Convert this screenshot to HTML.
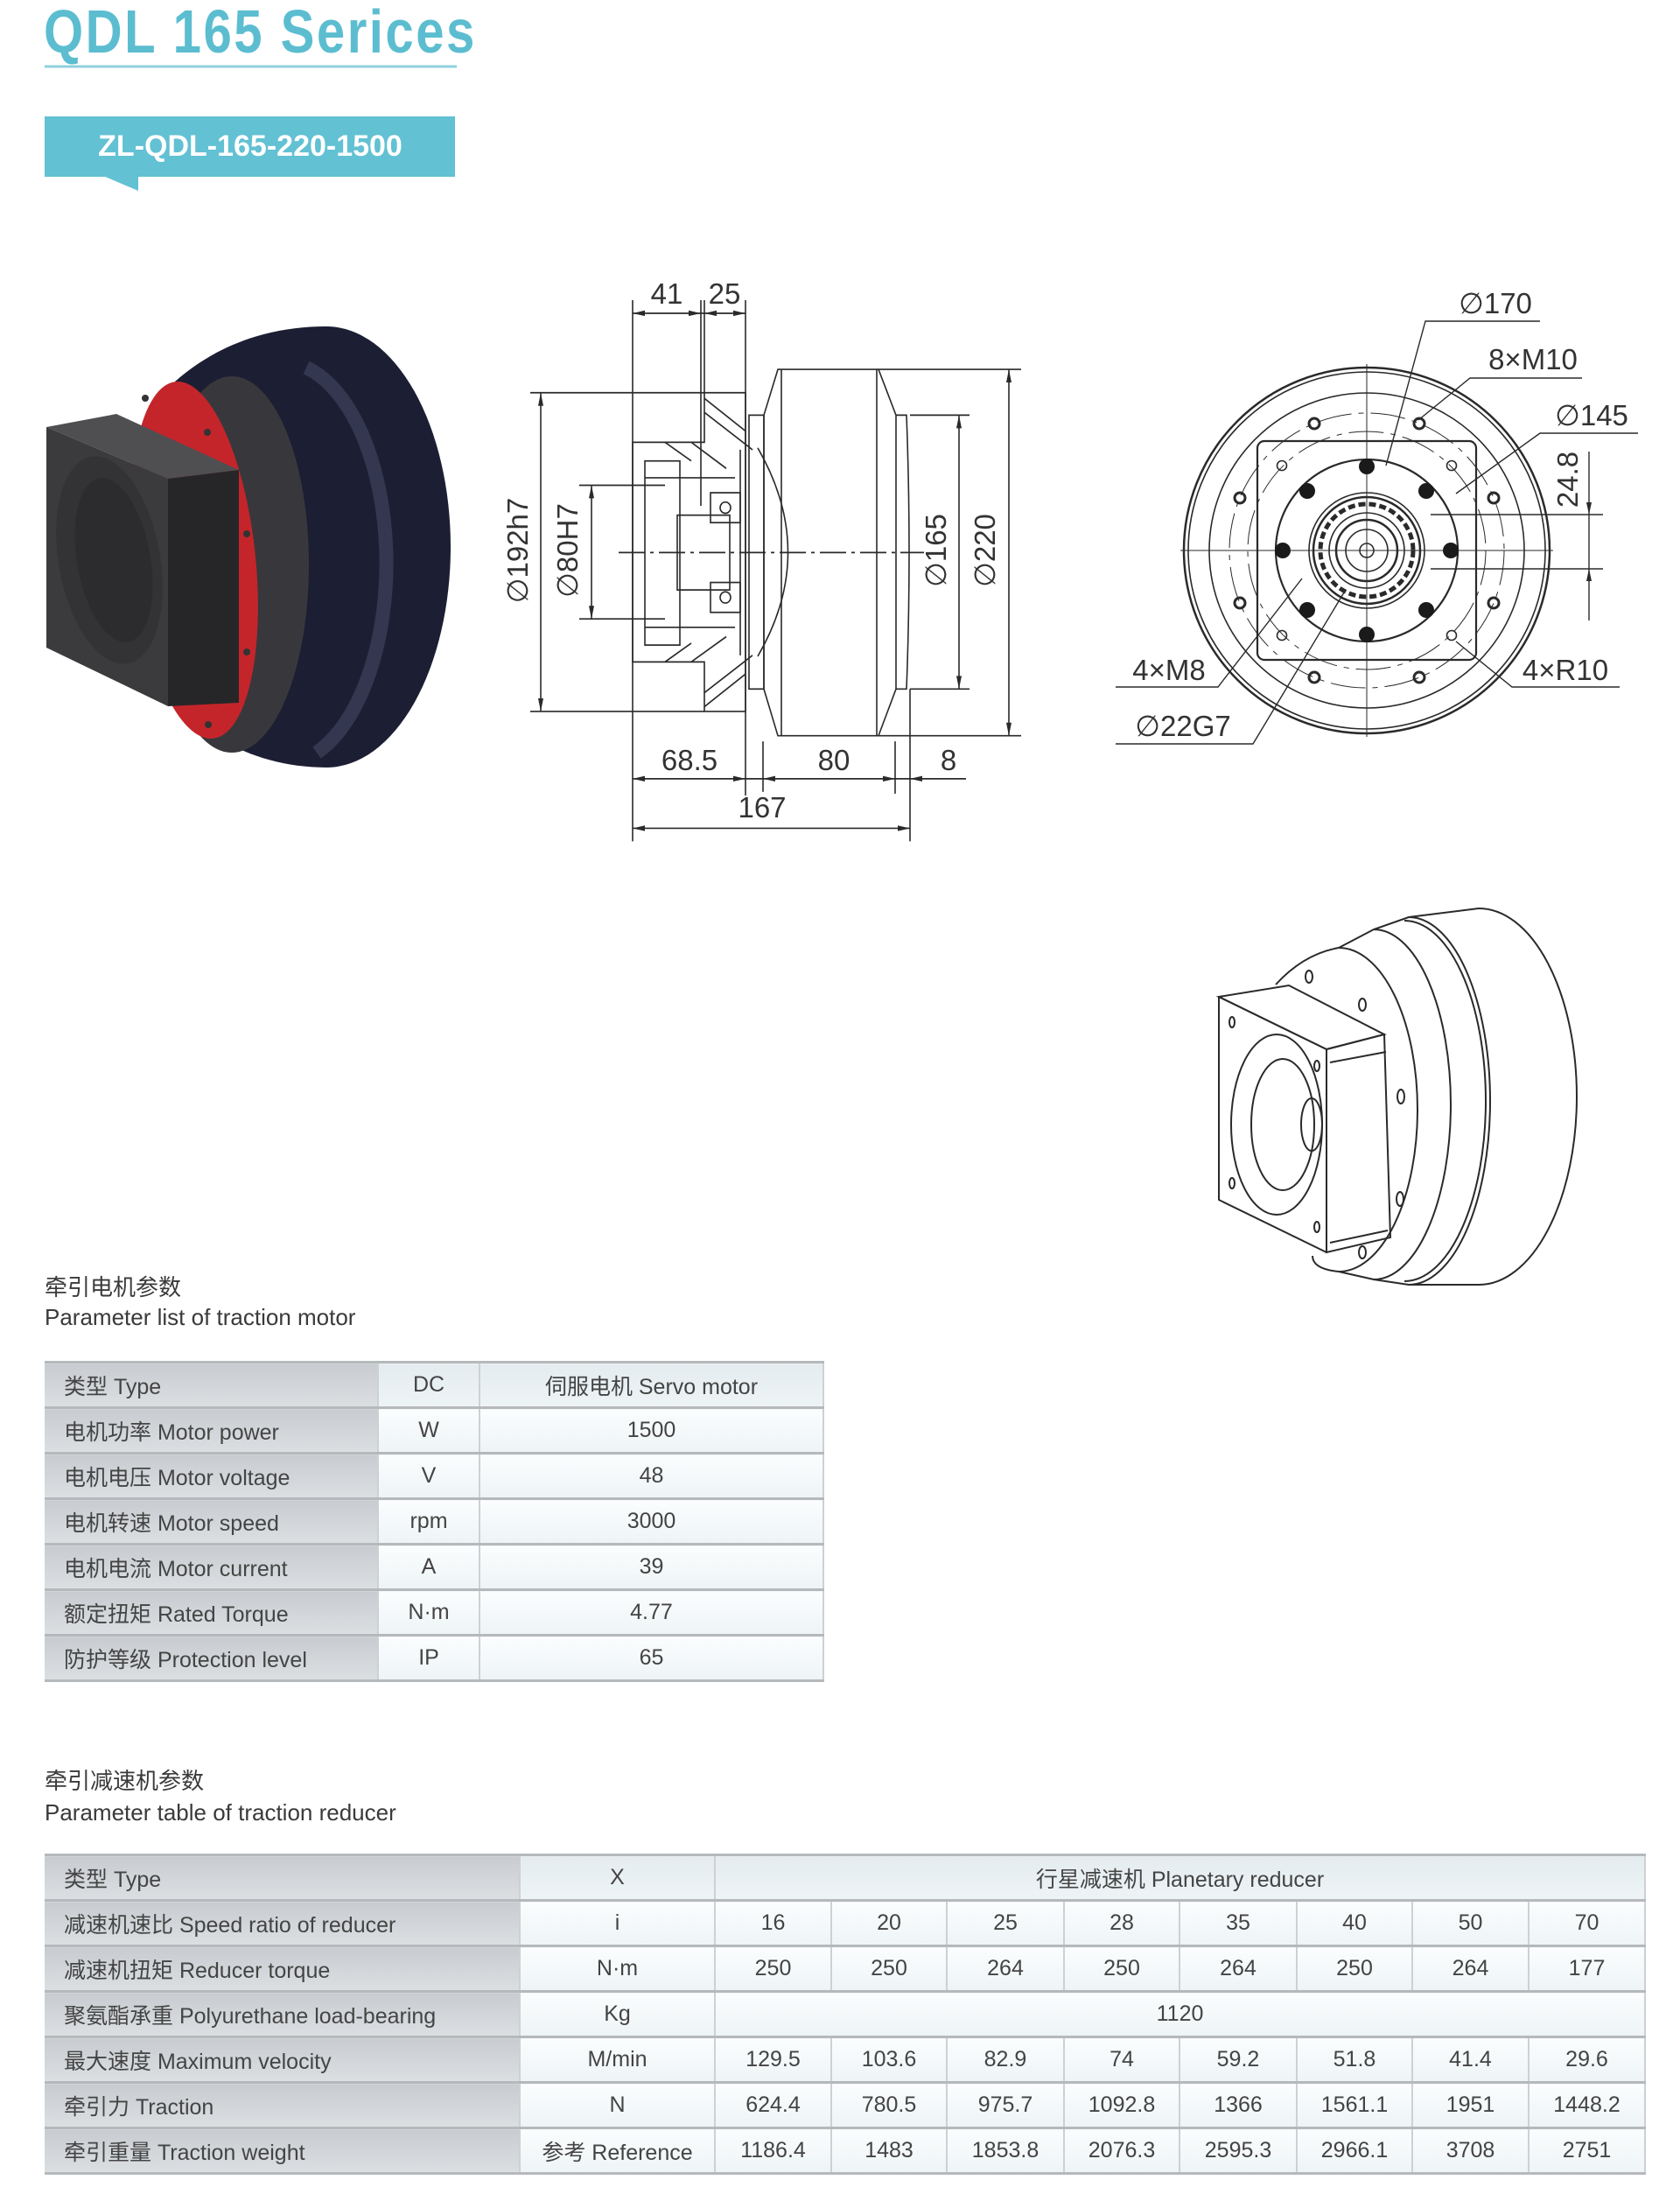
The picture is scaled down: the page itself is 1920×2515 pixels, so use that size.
<!DOCTYPE html>
<html><head><meta charset="utf-8"><style>
html,body{margin:0;padding:0;background:#fff;}
body{width:1920px;height:2515px;position:relative;overflow:hidden;font-family:"Liberation Sans","Noto Sans CJK SC",sans-serif;}
.t{position:absolute;color:#3a3a3a;font-size:26px;line-height:1;white-space:nowrap;}
table{position:absolute;border-collapse:collapse;table-layout:fixed;font-family:"Liberation Sans","Noto Sans CJK SC",sans-serif;font-size:25px;color:#444;border-top:3px solid #b5b9bc;}
td{height:49px;padding:0;text-align:center;border-bottom:3px solid #b5b9bc;border-right:2px solid #cdd1d4;background:linear-gradient(#fbfdfe,#eef4f6);white-space:nowrap;}
td.l{text-align:left;padding-left:22px;background:linear-gradient(#c8ccd0,#dcdfe2);}
td.h{background:linear-gradient(#e4ecef,#eef4f6);}
</style></head><body>

<svg width="1920" height="1500" style="position:absolute;left:0;top:0" xmlns="http://www.w3.org/2000/svg">
<!-- header -->
<text x="50" y="60" font-family="Liberation Sans, sans-serif" font-weight="bold" font-size="70" fill="#5cbdd0" letter-spacing="3" transform="translate(50,0) scale(0.83,1) translate(-50,0)">QDL 165 Serices</text>
<line x1="51" y1="76" x2="522" y2="76" stroke="#8fd0dc" stroke-width="3"/>
<rect x="51" y="133" width="469" height="69" fill="#62c1d3"/>
<polygon points="118,201 158,218 158,201" fill="#62c1d3"/>
<text x="286" y="178" text-anchor="middle" font-family="Liberation Sans, sans-serif" font-weight="bold" font-size="34" fill="#fff">ZL-QDL-165-220-1500</text>

<!-- dark 3D motor -->
<path d="M200,436 C250,392 310,373 373,373 A142,252 0 0 1 373,877 C320,877 270,860 240,835 Z" fill="#1c1f33"/>
<path d="M350,420 A120,230 0 0 1 362,860" fill="none" stroke="#3a3e58" stroke-width="16" opacity="0.8"/>
<ellipse cx="265" cy="645" rx="88" ry="215" fill="#38383c"/>
<ellipse cx="222" cy="640" rx="70" ry="205" fill="#c4252b" transform="rotate(-6 222 640)"/>
<circle cx="166" cy="455" r="4" fill="#333"/><circle cx="237" cy="494" r="4" fill="#333"/><circle cx="282" cy="610" r="4" fill="#333"/><circle cx="282" cy="745" r="4" fill="#333"/><circle cx="238" cy="828" r="4" fill="#333"/>
<polygon points="53,488 133,473 273,537 192,547" fill="#4f4f52"/>
<polygon points="192,547 273,537 273,803 192,807" fill="#262628"/>
<polygon points="53,488 192,547 192,807 53,740" fill="#3b3b3d"/>
<ellipse cx="125" cy="640" rx="58" ry="120" fill="#333335" transform="rotate(-10 125 640)"/>
<ellipse cx="130" cy="640" rx="42" ry="95" fill="#2c2c2e" transform="rotate(-10 130 640)"/>

<!-- side view -->
<g transform="translate(0,-20.1) scale(1,1.068)">
<g fill="none" stroke="#2a2a2a" stroke-width="1.6">
<line x1="723" y1="340" x2="723" y2="919"/>
<line x1="801" y1="340" x2="801" y2="560"/>
<line x1="805" y1="340" x2="805" y2="440"/>
<line x1="852" y1="340" x2="852" y2="870"/>
<line x1="723" y1="354" x2="852" y2="354"/>
<path d="M723,492 H805 V439 H852 V780 H805 V727 H723 Z"/>
<rect x="737" y="512" width="40" height="197"/>
<line x1="737" y1="530" x2="840" y2="530"/><line x1="737" y1="690" x2="840" y2="690"/>
<rect x="774" y="570" width="60" height="80"/>
<rect x="812" y="546" width="34" height="32"/><circle cx="829" cy="562" r="6"/>
<rect x="812" y="642" width="34" height="32"/><circle cx="829" cy="658" r="6"/>
<line x1="846" y1="500" x2="846" y2="720"/>
<path d="M805,460 L860,500 M790,492 L830,520 M760,492 L790,512 M805,760 L860,720 M790,727 L830,700 M760,727 L790,707 M805,445 L852,480 M805,775 L852,740"/>
<rect x="856" y="463" width="17" height="293"/>
<path d="M889,414 H1004 L1024,463 V756 L1004,806 H889 L873,756 V463 Z"/>
<line x1="893" y1="414" x2="893" y2="806"/><line x1="1002" y1="414" x2="1002" y2="806"/>
<path d="M1024,463 H1036 Q1042,610 1036,756 H1024"/>
<path d="M866,498 Q935,610 866,721"/>
<line x1="707" y1="610" x2="1056" y2="610" stroke-dasharray="30,6,4,6"/>
<line x1="606" y1="439" x2="805" y2="439"/><line x1="606" y1="780" x2="805" y2="780"/><line x1="618" y1="439" x2="618" y2="780"/>
<line x1="662" y1="538" x2="760" y2="538"/><line x1="662" y1="681" x2="760" y2="681"/><line x1="676" y1="538" x2="676" y2="681"/>
<line x1="1040" y1="463" x2="1108" y2="463"/><line x1="1040" y1="756" x2="1108" y2="756"/><line x1="1096" y1="463" x2="1096" y2="756"/>
<line x1="1004" y1="414" x2="1167" y2="414"/><line x1="1004" y1="806" x2="1167" y2="806"/><line x1="1153" y1="414" x2="1153" y2="806"/>
<line x1="723" y1="852" x2="1104" y2="852"/>
<line x1="872" y1="812" x2="872" y2="866"/><line x1="1023" y1="812" x2="1023" y2="868"/><line x1="1040" y1="756" x2="1040" y2="919"/>
<line x1="723" y1="905" x2="1040" y2="905"/>
</g>
<g fill="#2a2a2a">
<polygon points="723,354 737,351 737,357"/><polygon points="801,354 787,351 787,357"/><polygon points="805,354 819,351 819,357"/><polygon points="852,354 838,351 838,357"/>
<polygon points="618,439 615,453 621,453"/><polygon points="618,780 615,766 621,766"/>
<polygon points="676,538 673,552 679,552"/><polygon points="676,681 673,667 679,667"/>
<polygon points="1096,463 1093,477 1099,477"/><polygon points="1096,756 1093,742 1099,742"/>
<polygon points="1153,414 1150,428 1156,428"/><polygon points="1153,806 1150,792 1156,792"/>
<polygon points="723,852 737,849 737,855"/><polygon points="852,852 838,849 838,855"/><polygon points="872,852 886,849 886,855"/><polygon points="1023,852 1009,849 1009,855"/><polygon points="1040,852 1054,849 1054,855"/>
<polygon points="723,905 737,902 737,908"/><polygon points="1040,905 1026,902 1026,908"/>
</g>
</g>
<g font-family="Liberation Sans, DejaVu Sans, sans-serif" font-size="33" fill="#333" text-anchor="middle">
<text x="762" y="347">41</text><text x="828" y="347">25</text>
<text x="788" y="880">68.5</text><text x="953" y="880">80</text><text x="1084" y="880">8</text>
<text x="871" y="934">167</text>
<text transform="translate(603,629) rotate(-90)">∅192h7</text>
<text transform="translate(660,629) rotate(-90)">∅80H7</text>
<text transform="translate(1081,629) rotate(-90)">∅165</text>
<text transform="translate(1137,629) rotate(-90)">∅220</text>
</g>

<!-- front view -->
<g transform="translate(1562,629)" fill="none" stroke="#2a2a2a" stroke-width="1.6">
<circle r="209" stroke-width="2.5"/>
<circle r="204"/>
<circle r="180"/>
<circle r="157" stroke-dasharray="40,8,6,8" stroke-width="1"/>
<circle r="136" stroke-dasharray="40,8,6,8" stroke-width="1"/>
<rect x="-125" y="-125" width="250" height="250" rx="8" stroke-width="2.2"/>
<circle r="104" stroke-width="2.2"/>
<circle r="66"/><circle r="61" stroke-width="2.5"/>
<circle r="53" stroke-dasharray="8,4" stroke-width="5"/>
<circle r="43"/><circle r="35" stroke-width="2.5"/>
<circle r="24"/><circle r="8"/>
<line x1="-213" y1="0" x2="213" y2="0" stroke-width="1"/>
<line x1="0" y1="-213" x2="0" y2="213" stroke-width="1"/>
<g stroke-width="3">
<circle cx="145" cy="60" r="6"/><circle cx="-145" cy="60" r="6"/>
<circle cx="145" cy="-60" r="6"/><circle cx="-145" cy="-60" r="6"/>
<circle cx="60" cy="145" r="6"/><circle cx="-60" cy="145" r="6"/>
<circle cx="60" cy="-145" r="6"/><circle cx="-60" cy="-145" r="6"/>
</g>
<circle cx="97" cy="97" r="5.5"/><circle cx="-97" cy="97" r="5.5"/>
<circle cx="97" cy="-97" r="5.5"/><circle cx="-97" cy="-97" r="5.5"/>
<g fill="#1a1a1a" stroke="none">
<circle cx="96" cy="0" r="9"/><circle cx="-96" cy="0" r="9"/><circle cx="0" cy="96" r="9"/><circle cx="0" cy="-96" r="9"/>
<circle cx="68" cy="68" r="9"/><circle cx="-68" cy="68" r="9"/><circle cx="68" cy="-68" r="9"/><circle cx="-68" cy="-68" r="9"/>
</g>
</g>
<g fill="none" stroke="#2a2a2a" stroke-width="1.4">
<path d="M1760,367 H1629 L1584,532"/>
<path d="M1808,432 H1680 L1621,480"/>
<path d="M1872,495 H1760 L1664,564"/>
<line x1="1635" y1="588" x2="1832" y2="588"/><line x1="1635" y1="650" x2="1832" y2="650"/>
<line x1="1816" y1="516" x2="1816" y2="709"/>
<path d="M1275,785 H1392 L1488,661"/>
<path d="M1275,850 H1432 L1536,677"/>
<path d="M1851,785 H1728 L1664,733"/>
</g>
<g fill="#2a2a2a"><polygon points="1816,588 1813,574 1819,574"/><polygon points="1816,650 1813,664 1819,664"/></g>
<g font-family="Liberation Sans, DejaVu Sans, sans-serif" font-size="33" fill="#333" text-anchor="middle">
<text x="1709" y="358">∅170</text>
<text x="1752" y="422">8×M10</text>
<text x="1819" y="486">∅145</text>
<text transform="translate(1803,548) rotate(-90)">24.8</text>
<text x="1336" y="777">4×M8</text>
<text x="1352" y="841">∅22G7</text>
<text x="1789" y="777">4×R10</text>
</g>

<!-- line drawing 3D -->
<g fill="none" stroke="#2a2a2a" stroke-width="2">
<path d="M1690,1038 A112,215 0 0 1 1690,1468"/>
<path d="M1610,1048 A93,210 0 0 1 1610,1468"/><path d="M1605,1052 A93,206 0 0 1 1605,1464"/>
<path d="M1570,1062 A88,200 0 0 1 1570,1462"/>
<path d="M1530,1083 A90,185 0 0 1 1530,1453"/>
<path d="M1690,1038 L1610,1048 L1570,1062 L1530,1083"/>
<path d="M1690,1468 L1610,1468 L1570,1462 L1530,1453"/>
<path d="M1530,1083 Q1490,1090 1458,1125"/><path d="M1530,1453 Q1500,1450 1500,1435"/>
<path d="M1393,1139 L1473,1126 L1582,1182 L1516,1199 Z"/>
<path d="M1516,1199 L1582,1182 L1589,1414 L1516,1431 Z"/>
<path d="M1520,1214 L1584,1202"/><path d="M1520,1420 L1586,1406"/>
<path d="M1393,1139 L1516,1199 L1516,1431 L1393,1371 Z" stroke-linejoin="round"/>
<ellipse cx="1459" cy="1285" rx="52" ry="103"/>
<ellipse cx="1466" cy="1285" rx="36" ry="75"/>
<ellipse cx="1499" cy="1285" rx="12" ry="30"/>
<ellipse cx="1408" cy="1168" rx="3" ry="6"/><ellipse cx="1505" cy="1218" rx="3" ry="6"/><ellipse cx="1408" cy="1352" rx="3" ry="6"/><ellipse cx="1505" cy="1402" rx="3" ry="6"/>
<ellipse cx="1496" cy="1116" rx="4" ry="7"/><ellipse cx="1557" cy="1148" rx="4" ry="7"/><ellipse cx="1601" cy="1253" rx="4" ry="8"/><ellipse cx="1600" cy="1370" rx="4" ry="8"/><ellipse cx="1557" cy="1431" rx="4" ry="7"/>
</g>
</svg>

<div class="t" style="left:51px;top:1458px;font-size:26px;">牵引电机参数</div>
<div class="t" style="left:51px;top:1492px;font-size:26px;">Parameter list of traction motor</div>
<table style="left:51px;top:1555px;width:890px;">
<colgroup><col style="width:381px"><col style="width:116px"><col style="width:393px"></colgroup>
<tr><td class="l">类型 Type</td><td class="h">DC</td><td class="h">伺服电机 Servo motor</td></tr>
<tr><td class="l">电机功率 Motor power</td><td>W</td><td>1500</td></tr>
<tr><td class="l">电机电压 Motor voltage</td><td>V</td><td>48</td></tr>
<tr><td class="l">电机转速 Motor speed</td><td>rpm</td><td>3000</td></tr>
<tr><td class="l">电机电流 Motor current</td><td>A</td><td>39</td></tr>
<tr><td class="l">额定扭矩 Rated Torque</td><td>N·m</td><td>4.77</td></tr>
<tr><td class="l">防护等级 Protection level</td><td>IP</td><td>65</td></tr>
</table>

<div class="t" style="left:51px;top:2022px;font-size:26px;">牵引减速机参数</div>
<div class="t" style="left:51px;top:2058px;font-size:26px;">Parameter table of traction reducer</div>
<table style="left:51px;top:2118px;width:1829px;">
<colgroup><col style="width:543px"><col style="width:223px"><col style="width:133px"><col style="width:132px"><col style="width:134px"><col style="width:132px"><col style="width:134px"><col style="width:132px"><col style="width:133px"><col style="width:133px"></colgroup>
<tr><td class="l">类型 Type</td><td class="h">X</td><td class="h" colspan="8">行星减速机 Planetary reducer</td></tr>
<tr><td class="l">减速机速比 Speed ratio of reducer</td><td>i</td><td>16</td><td>20</td><td>25</td><td>28</td><td>35</td><td>40</td><td>50</td><td>70</td></tr>
<tr><td class="l">减速机扭矩 Reducer torque</td><td>N·m</td><td>250</td><td>250</td><td>264</td><td>250</td><td>264</td><td>250</td><td>264</td><td>177</td></tr>
<tr><td class="l">聚氨酯承重 Polyurethane load-bearing</td><td>Kg</td><td colspan="8">1120</td></tr>
<tr><td class="l">最大速度 Maximum velocity</td><td>M/min</td><td>129.5</td><td>103.6</td><td>82.9</td><td>74</td><td>59.2</td><td>51.8</td><td>41.4</td><td>29.6</td></tr>
<tr><td class="l">牵引力 Traction</td><td>N</td><td>624.4</td><td>780.5</td><td>975.7</td><td>1092.8</td><td>1366</td><td>1561.1</td><td>1951</td><td>1448.2</td></tr>
<tr><td class="l">牵引重量 Traction weight</td><td>参考 Reference</td><td>1186.4</td><td>1483</td><td>1853.8</td><td>2076.3</td><td>2595.3</td><td>2966.1</td><td>3708</td><td>2751</td></tr>
</table>
</body></html>
